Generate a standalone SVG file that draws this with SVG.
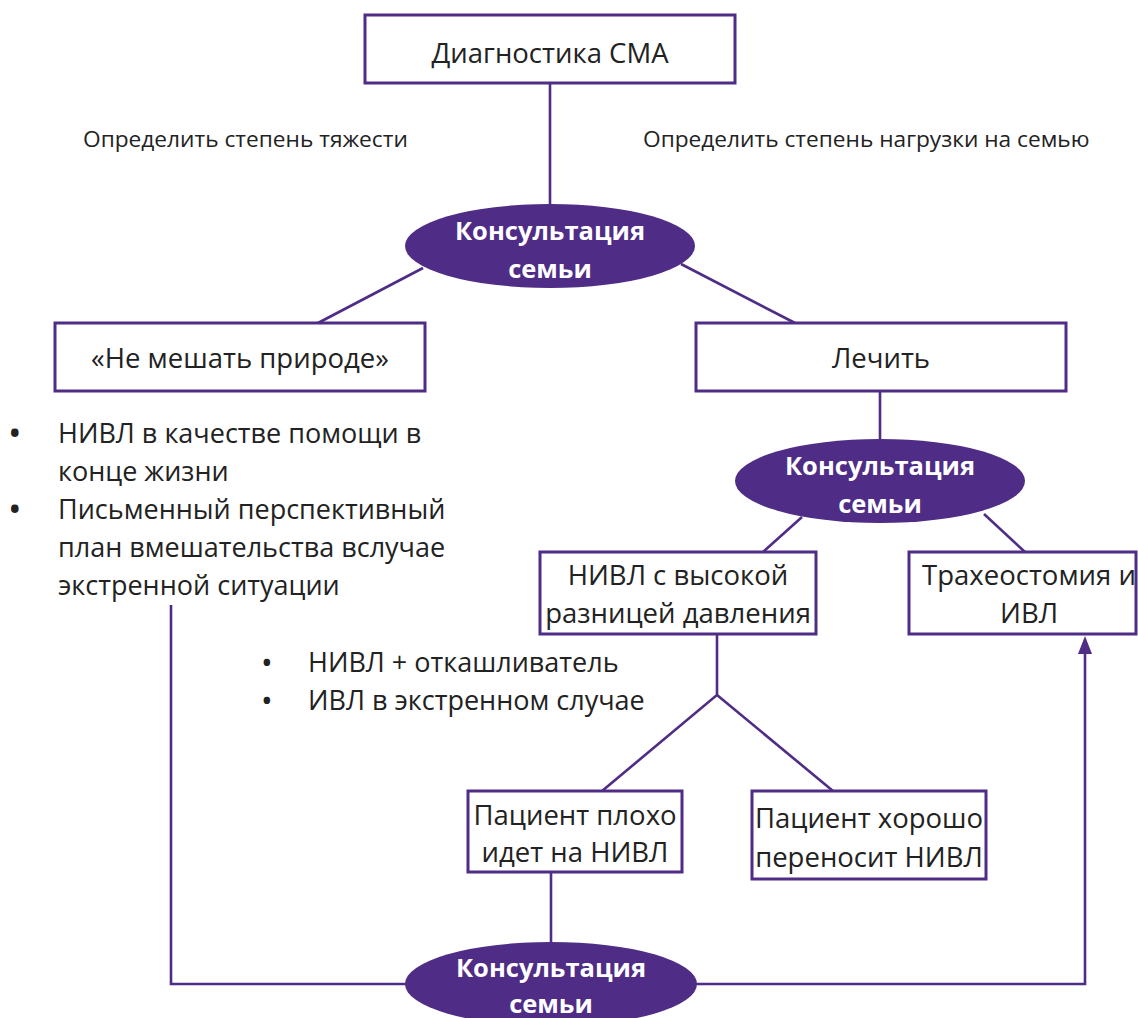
<svg xmlns="http://www.w3.org/2000/svg" width="1138" height="1018" viewBox="0 0 1138 1018">
<style>
.box{fill:#fff;stroke:#4f2c85;stroke-width:3}
.ell{fill:#4f2c85}
.ln{fill:none;stroke:#4f2c85;stroke-width:2.6}
.ah{fill:#4f2c85}
.t{font-family:"Open Sans","Liberation Sans",sans-serif;fill:#222;font-size:27.5px}
.tc{text-anchor:middle}
.e{font-family:"Open Sans","Liberation Sans",sans-serif;fill:#fff;font-size:25.5px;font-weight:bold;text-anchor:middle}
.lb{font-family:"Open Sans","Liberation Sans",sans-serif;fill:#222;font-size:22.7px}
.bl{font-family:"Open Sans","Liberation Sans",sans-serif;fill:#222;font-size:27px}
.dot{font-size:36px}
.dot2{font-size:31px}
</style>
<g id="connectors">
<line class="ln" x1="550" y1="83" x2="550" y2="206"/>
<line class="ln" x1="423" y1="268" x2="318" y2="323"/>
<line class="ln" x1="681" y1="264" x2="795" y2="323"/>
<line class="ln" x1="880" y1="391" x2="880" y2="441"/>
<line class="ln" x1="802" y1="517" x2="763" y2="552"/>
<line class="ln" x1="984" y1="514" x2="1025" y2="552"/>
<polyline class="ln" points="717,634 717,695 602,791"/>
<line class="ln" x1="717" y1="695" x2="833" y2="791"/>
<line class="ln" x1="551" y1="872" x2="551" y2="943"/>
<polyline class="ln" points="171,605 171,984 406,984"/>
<polyline class="ln" points="696,984 1085,984 1085,650"/>
<path class="ah" d="M1085,636 L1092,654 L1078,654 Z"/>
</g>
<g id="label-left"><text class="lb" x="83" y="147">Определить степень тяжести</text></g>
<g id="label-right"><text class="lb" x="643" y="147">Определить степень нагрузки на семью</text></g>
<g id="diag">
<rect class="box" x="365" y="15" width="370" height="68"/>
<text class="t tc" x="550" y="63">Диагностика СМА</text>
</g>
<g id="consult1">
<ellipse class="ell" cx="550" cy="246" rx="145" ry="42"/>
<text class="e" x="550" y="240">Консультация</text>
<text class="e" x="550" y="278">семьи</text>
</g>
<g id="nature">
<rect class="box" x="55" y="323" width="370" height="68"/>
<text class="t tc" x="240" y="368">«Не мешать природе»</text>
</g>
<g id="treat">
<rect class="box" x="696" y="323" width="370" height="68"/>
<text class="t tc" x="881" y="368">Лечить</text>
</g>
<g id="bullets-left">
<text class="bl" y="443"><tspan class="dot" x="8" dy="3">•</tspan><tspan x="58" dy="-3">НИВЛ в качестве помощи в</tspan></text>
<text class="bl" x="58" y="481">конце жизни</text>
<text class="bl" y="519"><tspan class="dot" x="8" dy="3">•</tspan><tspan x="58" dy="-3">Письменный перспективный</tspan></text>
<text class="bl" x="58" y="557">план вмешательства вслучае</text>
<text class="bl" x="58" y="595">экстренной ситуации</text>
</g>
<g id="consult2">
<ellipse class="ell" cx="880" cy="481" rx="145" ry="42"/>
<text class="e" x="880" y="475">Консультация</text>
<text class="e" x="880" y="513">семьи</text>
</g>
<g id="nivl">
<rect class="box" x="540" y="552" width="276" height="82"/>
<text class="t tc" x="678" y="585">НИВЛ с высокой</text>
<text class="t tc" x="678" y="623">разницей давления</text>
</g>
<g id="trach">
<rect class="box" x="909" y="552" width="227" height="82"/>
<text class="t tc" x="1029" y="585">Трахеостомия и</text>
<text class="t tc" x="1029" y="623">ИВЛ</text>
</g>
<g id="bullets-mid">
<text class="bl" y="672"><tspan class="dot2" x="261" dy="2">•</tspan><tspan x="308" dy="-2">НИВЛ + откашливатель</tspan></text>
<text class="bl" y="710"><tspan class="dot2" x="261" dy="2">•</tspan><tspan x="308" dy="-2">ИВЛ в экстренном случае</tspan></text>
</g>
<g id="bad">
<rect class="box" x="468" y="791" width="214" height="81"/>
<text class="t tc" x="575" y="825">Пациент плохо</text>
<text class="t tc" x="575" y="862">идет на НИВЛ</text>
</g>
<g id="good">
<rect class="box" x="752" y="791" width="234" height="88"/>
<text class="t tc" x="869" y="828">Пациент хорошо</text>
<text class="t tc" x="869" y="867">переносит НИВЛ</text>
</g>
<g id="consult3">
<ellipse class="ell" cx="551" cy="984" rx="146" ry="42"/>
<text class="e" x="551" y="977">Консультация</text>
<text class="e" x="551" y="1013">семьи</text>
</g>
</svg>
